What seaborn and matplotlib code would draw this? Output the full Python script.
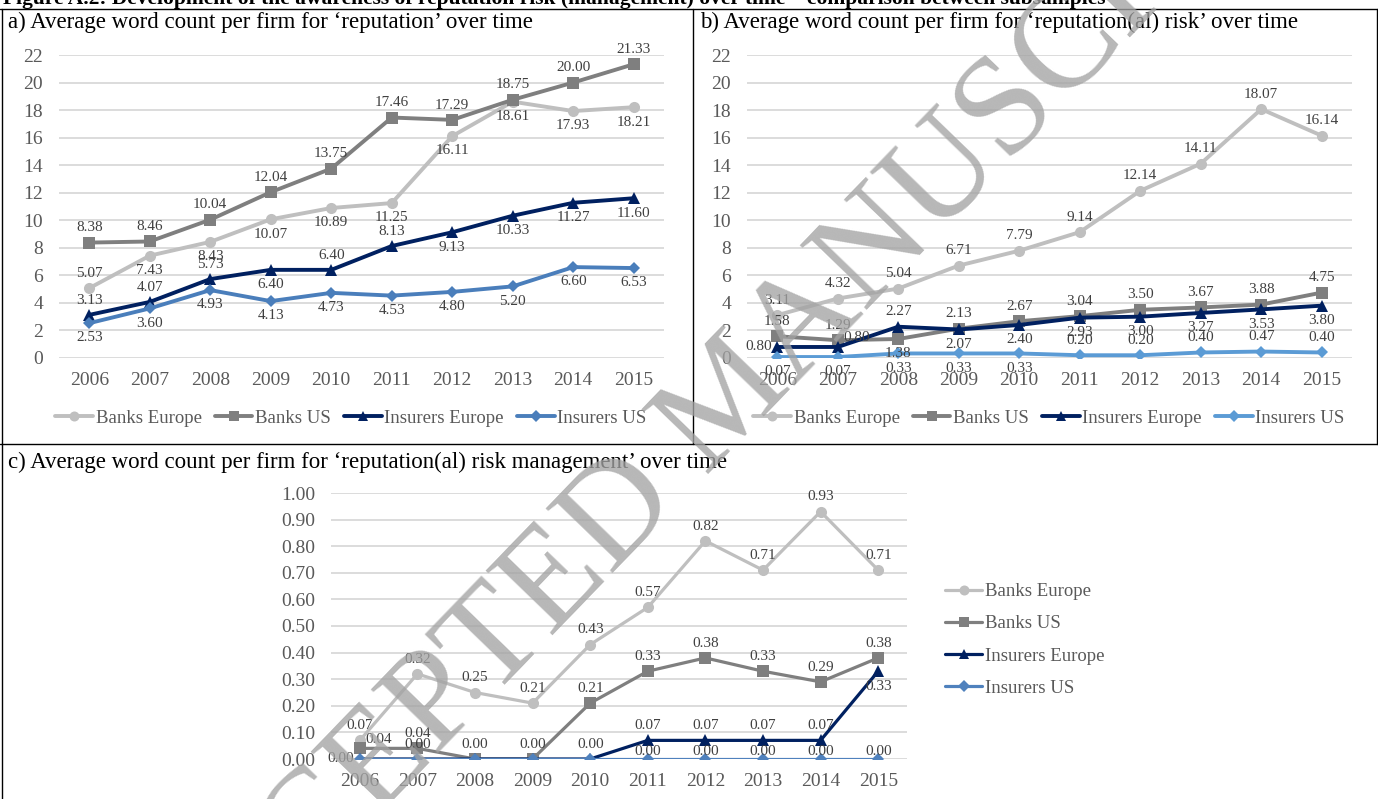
import numpy as np
import pandas as pd
import matplotlib
matplotlib.use("Agg")
import matplotlib.pyplot as plt
from matplotlib.lines import Line2D
import seaborn as sns

# ---------------------------------------------------------------- data
years = [2006, 2007, 2008, 2009, 2010, 2011, 2012, 2013, 2014, 2015]
series_names = ["Banks Europe", "Banks US", "Insurers Europe", "Insurers US"]

# a) 'reputation'
rep_banks_eu = [5.07, 7.43, 8.43, 10.07, 10.89, 11.25, 16.11, 18.61, 17.93, 18.21]
rep_banks_us = [8.38, 8.46, 10.04, 12.04, 13.75, 17.46, 17.29, 18.75, 20.00, 21.33]
rep_ins_eu = [3.13, 4.07, 5.73, 6.40, 6.40, 8.13, 9.13, 10.33, 11.27, 11.60]
rep_ins_us = [2.53, 3.60, 4.93, 4.13, 4.73, 4.53, 4.80, 5.20, 6.60, 6.53]

# b) 'reputation(al) risk'
risk_banks_eu = [3.11, 4.32, 5.04, 6.71, 7.79, 9.14, 12.14, 14.11, 18.07, 16.14]
risk_banks_us = [1.58, 1.29, 1.38, 2.13, 2.67, 3.04, 3.50, 3.67, 3.88, 4.75]
risk_ins_eu = [0.80, 0.80, 2.27, 2.07, 2.40, 2.93, 3.00, 3.27, 3.53, 3.80]
risk_ins_us = [0.07, 0.07, 0.33, 0.33, 0.33, 0.20, 0.20, 0.40, 0.47, 0.40]

# c) 'reputation(al) risk management'
mgmt_banks_eu = [0.07, 0.32, 0.25, 0.21, 0.43, 0.57, 0.82, 0.71, 0.93, 0.71]
mgmt_banks_us = [0.04, 0.04, 0.00, 0.00, 0.21, 0.33, 0.38, 0.33, 0.29, 0.38]
mgmt_ins_eu = [0.00, 0.00, 0.00, 0.00, 0.00, 0.07, 0.07, 0.07, 0.07, 0.33]
mgmt_ins_us = [0.00, 0.00, 0.00, 0.00, 0.00, 0.00, 0.00, 0.00, 0.00, 0.00]

titles = [
    "a) Average word count per firm for \u2018reputation\u2019 over time",
    "b) Average word count per firm for \u2018reputation(al) risk\u2019 over time",
    "c) Average word count per firm for \u2018reputation(al) risk management\u2019 over time",
]
caption = ("Figure A.2: Development of the awareness of reputation risk (management) "
           "over time \u2013 comparison between subsamples")

# ---------------------------------------------------------------- styling
marker_shapes = ["o", "s", "^", "D"]
marker_sizes = [8, 8, 8.5, 6.5]

# data-label placement per point: a=above, b=below, l=left, r=right,
# s=just above, -=none
place_a = ["abbbbbbbbb", "aaaaaaaaaa", "aaabaabbbb", "bbbbbbbbbb"]
place_b = ["aaaaaaaaaa", "aabaaaaaaa", "lrabbbbbbb", "bbbbbaaaaa"]
place_c = ["aaaaaaaaaa", "raaaaaaaaa", "la--aaaaab", "-----sssss"]

sns.set_theme(style="white")
plt.rcParams["font.family"] = ["Liberation Serif", "DejaVu Serif"]

W, H = 1378, 799
fig = plt.figure(figsize=(W / 100, H / 100), dpi=100)


def px_box(left, top, right, bottom):
    return [left / W, 1 - bottom / H, (right - left) / W, (bottom - top) / H]


def draw_panel(ax, values, colors, ylim, yticks, yfmt, places, lw, tick_pad_y):
    df = pd.DataFrame({
        "Year": np.tile(years, len(series_names)),
        "Value": np.concatenate(values),
        "Series": np.repeat(series_names, len(years)),
    })
    sns.lineplot(data=df, x="Year", y="Value", hue="Series", style="Series",
                 hue_order=series_names, style_order=series_names,
                 palette=dict(zip(series_names, colors)),
                 markers=dict(zip(series_names, marker_shapes)),
                 dashes=False, linewidth=lw, markeredgewidth=0,
                 markersize=8, legend=False, ax=ax)
    for line, ms in zip(ax.get_lines(), marker_sizes):
        line.set_markersize(ms)
        line.set_solid_joinstyle("miter")

    ax.set_xlim(years[0] - 0.5, years[-1] + 0.5)
    ax.set_ylim(*ylim)
    ax.set_xticks(years)
    ax.set_xticklabels([str(y) for y in years])
    ax.set_yticks(yticks)
    ax.set_yticklabels([yfmt.format(t) for t in yticks])
    ax.set_xlabel("")
    ax.set_ylabel("")
    ax.yaxis.grid(True, color="#d9d9d9", linewidth=1.3)
    ax.xaxis.grid(False)
    ax.set_axisbelow(True)
    for sp in ax.spines.values():
        sp.set_visible(False)
    ax.tick_params(axis="both", length=0, labelsize=14, labelcolor="#595959")
    ax.tick_params(axis="x", pad=10)
    ax.tick_params(axis="y", pad=tick_pad_y)
    ax.set_facecolor("none")

    for vals, plc in zip(values, places):
        for x, v, p in zip(years, vals, plc):
            if p == "-":
                continue
            if p == "a":
                off, ha, va = (0, 6), "center", "bottom"
            elif p == "s":
                off, ha, va = (0, 1), "center", "bottom"
            elif p == "b":
                off, ha, va = (0, -6), "center", "top"
            elif p == "l":
                off, ha, va = (-4, 0), "right", "center"
            else:
                off, ha, va = (4, 2), "left", "bottom"
            ax.annotate(f"{v:.2f}", (x, v), xytext=off, textcoords="offset points",
                        ha=ha, va=va, fontsize=11, color="#404040", zorder=5)


def legend_handles(colors, lw):
    return [Line2D([0], [0], color=c, lw=lw, marker=m, markersize=ms * 0.9,
                   markeredgewidth=0)
            for c, m, ms in zip(colors, marker_shapes, marker_sizes)]


colors_a = ["#bfbfbf", "#7f7f7f", "#002060", "#4a7ebb"]
colors_b = ["#bfbfbf", "#7f7f7f", "#002060", "#5b9bd5"]
colors_c = ["#bfbfbf", "#7f7f7f", "#002060", "#4f81bd"]

ax_a = fig.add_axes(px_box(59, 55, 664, 358))
draw_panel(ax_a, [rep_banks_eu, rep_banks_us, rep_ins_eu, rep_ins_us], colors_a,
           (0, 22), list(range(0, 23, 2)), "{:d}", place_a, 2.8, 11.5)

ax_b = fig.add_axes(px_box(747, 55, 1352, 358))
draw_panel(ax_b, [risk_banks_eu, risk_banks_us, risk_ins_eu, risk_ins_us], colors_b,
           (0, 22), list(range(0, 23, 2)), "{:d}", place_b, 2.8, 11.5)

ax_c = fig.add_axes(px_box(331, 493, 907, 759))
draw_panel(ax_c, [mgmt_banks_eu, mgmt_banks_us, mgmt_ins_eu, mgmt_ins_us], colors_c,
           (0, 1.0), [round(0.1 * i, 1) for i in range(11)], "{:.2f}", place_c, 2.3, 11.5)

# legends
leg_kw = dict(frameon=False, fontsize=13.5, handlelength=2.0, handletextpad=0.15,
              labelcolor="#595959")
fig.legend(legend_handles(colors_a, 2.8), series_names, loc="center", ncol=4,
           bbox_to_anchor=(351 / W, 1 - 418 / H), columnspacing=0.7, **leg_kw)
fig.legend(legend_handles(colors_b, 2.8), series_names, loc="center", ncol=4,
           bbox_to_anchor=(1049 / W, 1 - 418 / H), columnspacing=0.7, **leg_kw)
fig.legend(legend_handles(colors_c, 2.3), series_names, loc="center left", ncol=1,
           bbox_to_anchor=(928 / W, 1 - 640 / H), labelspacing=0.8, **leg_kw)

# panel titles and caption
fig.text(8 / W, 1 - 22 / H, titles[0], fontsize=16.5, va="center", color="black")
fig.text(700 / W, 1 - 22 / H, titles[1], fontsize=16.5, va="center", color="black")
fig.text(8 / W, 1 - 462 / H, titles[2], fontsize=16.5, va="center", color="black")
fig.text(3 / W, 1 - 4 / H, caption, fontsize=15.5, fontweight="bold", va="baseline",
         color="black")

# table rules
rule = dict(color="black", lw=1.0, transform=fig.transFigure)
fig.add_artist(Line2D([0, 1], [1 - 9 / H, 1 - 9 / H], **rule))
fig.add_artist(Line2D([0, 1], [1 - 444 / H, 1 - 444 / H], **rule))
fig.add_artist(Line2D([1.5 / W, 1.5 / W], [0, 1 - 9 / H], **rule))
fig.add_artist(Line2D([693 / W, 693 / W], [1 - 444 / H, 1 - 9 / H], **rule))
fig.add_artist(Line2D([1376.5 / W, 1376.5 / W], [1 - 444 / H, 1 - 9 / H], **rule))

# diagonal watermark
fig.text(732 / W, 1 - 400 / H, "ACCEPTED MANUSCRIPT", fontsize=102, rotation=46,
         rotation_mode="anchor", ha="center", va="center", color="#a3a3a3",
         alpha=0.78, zorder=100)

fig.savefig("out.png", dpi=100)
